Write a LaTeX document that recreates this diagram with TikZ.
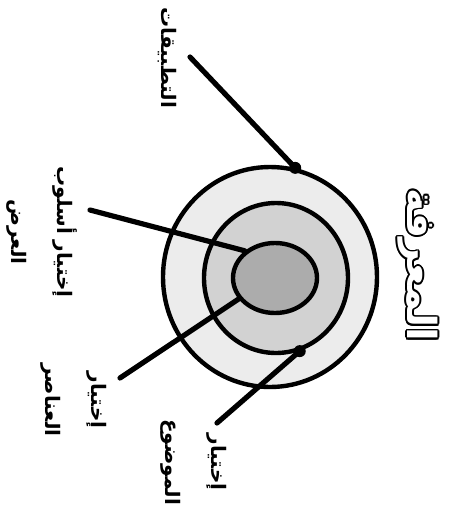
\documentclass[tikz,border=0pt]{standalone}
\usepackage{fontspec}
\usepackage[copies]{contour}
\usetikzlibrary{shapes.geometric}
\newfontfamily\arabicfont[Script=Arabic]{DejaVu Sans}
\TeXXeTstate=1
\contourlength{0.8pt}

\begin{document}
\begin{tikzpicture}[
  x=0.5pt, y=-0.5pt,
  ring/.style={ellipse, draw, line width=2.2pt, inner sep=0pt},
  tag/.style={rotate=-90, align=center, inner sep=0pt,
    font=\arabicfont\bfseries\fontsize{10}{23}\selectfont},
  lead/.style={line width=2.6pt, line cap=round}
]
\useasboundingbox (0,0) rectangle (454,505);

% Rings
\node[ring, fill=gray!15, minimum width=107pt, minimum height=110pt] (outer) at (270,277) {};
\node[ring, fill=gray!35, minimum width=72pt, minimum height=75pt] (middle) at (276,278) {};
\node[ring, fill=gray!65, minimum width=42pt, minimum height=35pt] (inner) at (275,278) {};

% Labels
\node[tag] (apps) at (167,58) {\beginR التطبيقات\endR};
\node[tag] (style) at (42,232) {\beginR إختيار أسلوب\endR\\\beginR العرض\endR};
\node[tag] (items) at (74,400) {\beginR إختيار\endR\\\beginR العناصر\endR};
\node[tag] (topic) at (194,462) {\beginR إختيار\endR\\\beginR الموضوع\endR};
\node[tag, text=white, font=\arabicfont\bfseries\fontsize{20}{24}\selectfont] (know) at (417,265)
  {\contour{black}{\beginR المعرفة\endR}};

% Leads
\coordinate (appsFrom) at (190,57);
\coordinate (styleFrom) at (90,210);
\coordinate (itemsFrom) at (120,378);
\coordinate (topicFrom) at (217,423);
\draw[lead] (appsFrom) -- (outer.77);
\draw[lead] (styleFrom) -- (inner.138);
\draw[lead] (itemsFrom) -- (inner.210);
\draw[lead] (topicFrom) -- (middle.288);
\fill (outer.77) circle (3pt);
\fill (middle.288) circle (3pt);

\end{tikzpicture}
\end{document}
